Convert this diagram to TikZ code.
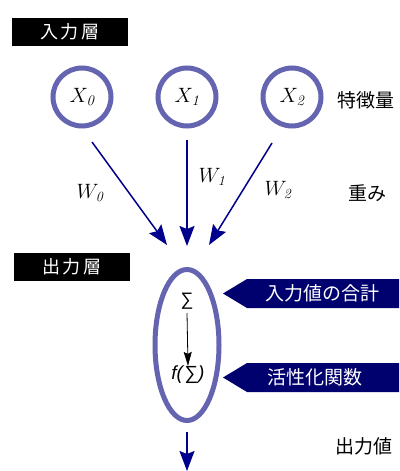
\documentclass[tikz,border=0pt]{standalone}
\usepackage{fontspec}
\newfontfamily\jp{Noto Sans CJK JP}
\newfontfamily\jpw[LetterSpace=12]{Noto Sans CJK JP}
\newfontfamily\lsans{Liberation Sans}
\usetikzlibrary{arrows.meta,shapes.geometric}
\definecolor{ring}{RGB}{100,100,176}
\definecolor{navy}{RGB}{0,0,140}
\definecolor{band}{RGB}{0,0,110}
\tikzset{
  layerbox/.style={fill=black,text=white,minimum width=116pt,minimum height=28pt,inner sep=0pt,font=\jpw\fontsize{18}{20}\selectfont},
  feat/.style={circle,draw=ring,line width=5pt,minimum size=58pt,inner sep=0pt,font=\fontsize{21}{24}\selectfont},
  wlabel/.style={font=\fontsize{20}{24}\selectfont},
  jlabel/.style={font=\jp\fontsize{19}{22}\selectfont},
  warrow/.style={draw=navy,line width=1.5pt,-{Stealth[length=20pt,width=15pt,inset=3pt]}},
  banner/.style={fill=band},
  bantext/.style={text=white,font=\jp\fontsize{19}{22}\selectfont}
}
\begin{document}
\begin{tikzpicture}[x=1pt,y=-1pt]
\useasboundingbox (0,0) rectangle (399,471);
\node[layerbox] (inl) at (70,32) {入力層};
\node[feat] (x0) at (82,97) {$X_{\mathit{0}}$};
\node[feat] (x1) at (187,97) {$X_{\mathit{1}}$};
\node[feat] (x2) at (292,97) {$X_{\mathit{2}}$};
\node[jlabel] (feattext) at (366,100) {特徴量};
\coordinate (s0) at (92,142);
\coordinate (s1) at (187,140);
\coordinate (s2) at (272,143);
\coordinate (e0) at (167,245);
\coordinate (e1) at (187,246);
\coordinate (e2) at (209,245);
\draw[warrow] (s0) -- (e0);
\draw[warrow] (s1) -- (e1);
\draw[warrow] (s2) -- (e2);
\node[wlabel] (w0) at (90,193) {$W_{\mathit{0}}$};
\node[wlabel] (w1) at (212,177) {$W_{\mathit{1}}$};
\node[wlabel] (w2) at (278,190) {$W_{\mathit{2}}$};
\node[jlabel] (wtext) at (367,193) {重み};
\node[layerbox] (outl) at (72,267) {出力層};
\node[ellipse,draw=ring,line width=5pt,minimum width=64pt,minimum height=151pt,inner sep=0pt] (out) at (187,345) {};
\node[font=\lsans\fontsize{18}{20}\selectfont,inner sep=0pt] (sum) at (187,301) {∑};
\node[font=\lsans\fontsize{19}{22}\selectfont,inner sep=0pt] (act) at (188,375) {\textit{f(}∑\textit{)}};
\coordinate (ss) at (187,313);
\draw[black,line width=0.8pt,-{Stealth[length=14pt,width=8pt,inset=2pt]}] (ss) -- (act.north);
\fill[banner] (223,293.5) -- (247,279) -- (399,279) -- (399,308) -- (247,308) -- cycle;
\node[bantext] (b1) at (322,293.5) {入力値の合計};
\fill[banner] (223,377.5) -- (247,363) -- (399,363) -- (399,392) -- (247,392) -- cycle;
\node[bantext] (b2) at (315,377.5) {活性化関数};
\coordinate (os) at (187,432);
\coordinate (oe) at (187,471);
\draw[warrow] (os) -- (oe);
\node[jlabel] (outtext) at (364,446) {出力値};
\end{tikzpicture}
\end{document}
